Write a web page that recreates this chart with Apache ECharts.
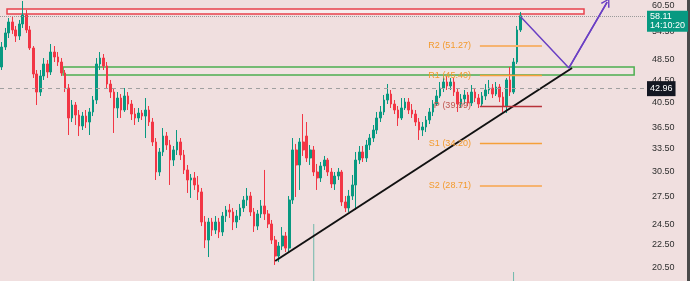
<!DOCTYPE html>
<html>
<head>
<meta charset="utf-8">
<script src="https://cdn.jsdelivr.net/npm/echarts@6/dist/echarts.min.js"></script>
<style>
html,body{margin:0;padding:0;background:#f0dfdf;}
#main{width:690px;height:281px;}
</style>
</head>
<body>
<div id="main"></div>
<script>
// candles (price units)
var opens = [46.98,51.04,54.10,56.62,54.78,53.42,56.15,58.29,54.78,50.83,45.64,42.35,45.26,47.57,46.02,49.99,48.97,47.96,45.83,43.06,
  38.03,40.13,38.50,36.79,38.34,37.40,38.99,40.97,47.57,48.76,47.18,43.78,42.35,39.64,41.31,39.31,41.66,40.30,38.66,38.03,
  38.82,38.34,39.31,37.40,34.43,30.40,33.03,35.29,34.00,31.95,33.31,34.43,32.62,30.66,29.41,29.66,28.81,27.99,24.71,22.93,
  24.71,23.90,24.71,23.71,25.33,25.97,25.76,24.71,25.33,26.19,27.07,27.52,25.76,24.30,25.55,26.41,25.55,24.51,22.93,21.46,
  22.37,23.32,22.18,27.07,33.31,31.30,34.43,35.29,32.22,33.31,30.40,29.66,31.17,31.95,30.40,28.93,29.90,30.40,26.85,26.19,
  27.52,28.81,31.95,33.03,32.22,34.00,35.00,36.18,38.03,38.99,40.97,42.00,40.30,39.31,38.03,39.64,40.63,39.31,38.66,37.40,
  36.18,36.64,37.71,38.99,40.30,41.66,43.06,44.15,43.42,44.15,42.35,40.30,41.14,41.83,40.47,42.35,41.31,40.30,41.66,42.71,
  43.06,42.00,43.24,41.48,39.97,44.52,42.35,47.96,54.78];
var closes = [51.04,54.10,56.62,54.78,53.42,56.15,58.29,54.78,50.83,45.64,42.35,45.26,47.57,46.02,49.99,48.97,47.96,45.83,43.06,38.03,
  40.13,38.50,36.79,38.34,37.40,38.99,40.97,47.57,48.76,47.18,43.78,42.35,39.64,41.31,39.31,41.66,40.30,38.66,38.03,38.82,
  38.34,39.31,37.40,34.43,30.40,33.03,35.29,34.00,31.95,33.31,34.43,32.62,30.66,29.41,29.66,28.81,27.99,24.71,22.93,24.71,
  23.90,24.71,23.71,25.33,25.97,25.76,24.71,25.33,26.19,27.07,27.52,25.76,24.30,25.55,26.41,25.55,24.51,22.93,21.46,22.37,
  23.32,22.18,27.07,33.31,31.30,34.43,33.31,32.22,33.31,30.40,29.66,31.17,31.95,30.40,28.93,29.90,30.40,26.85,26.19,27.52,
  28.81,31.95,33.03,32.22,34.00,35.00,36.18,38.03,38.99,40.97,42.00,40.30,39.31,38.03,39.64,40.63,39.31,38.66,37.40,36.18,
  36.64,37.71,38.99,40.30,41.66,43.06,44.15,43.42,44.15,42.35,40.30,41.14,41.83,40.47,42.35,41.31,40.30,41.66,42.71,43.06,
  42.00,43.24,41.48,39.97,44.52,42.35,47.96,54.78,58.11];
var lows = [46.40,50.41,52.98,53.88,52.11,52.54,55.23,54.10,50.41,44.89,40.13,41.66,44.52,44.89,45.45,47.96,47.18,45.26,42.35,35.44,
  37.40,36.94,35.29,36.18,36.48,35.44,38.34,40.30,46.40,46.40,43.06,41.31,35.74,38.03,38.03,38.99,39.31,37.71,36.94,37.40,
  37.71,35.00,36.79,33.86,29.41,29.90,32.49,33.31,28.81,31.17,32.62,31.95,30.15,27.87,27.30,28.22,27.07,24.30,22.18,21.37,
  23.32,23.51,23.12,23.32,24.71,25.13,23.90,24.10,24.92,25.76,26.41,25.33,23.71,23.90,25.13,24.92,24.10,22.56,20.68,20.93,
  22.00,21.82,21.82,26.63,27.41,28.22,32.49,31.69,31.30,29.90,28.22,29.17,30.66,29.90,28.45,28.22,29.41,26.41,25.76,25.76,
  27.07,25.97,31.43,31.69,31.69,33.31,34.43,35.59,37.40,38.50,40.30,39.64,38.66,36.79,37.71,39.31,38.66,38.03,36.79,34.72,
  35.29,35.88,37.09,38.34,39.97,41.31,42.35,42.71,42.71,41.66,38.99,39.64,40.30,39.97,39.97,40.63,39.64,39.97,40.97,42.00,
  41.31,41.66,40.63,38.99,38.82,41.66,42.00,47.57,54.32];
var highs = [52.11,55.23,57.56,57.80,55.69,57.09,61.76,59.51,55.69,51.25,46.40,46.40,48.76,48.36,51.68,51.25,49.99,48.76,46.40,43.78,
  40.97,40.63,39.31,38.99,39.31,39.64,41.66,48.76,49.99,49.58,47.96,44.52,43.06,42.35,42.00,43.06,42.35,40.97,39.64,39.64,
  39.31,41.31,39.97,38.03,35.00,33.58,36.48,35.88,34.72,33.86,36.18,35.00,33.31,31.30,30.15,30.40,29.90,28.45,25.33,25.13,
  25.13,25.33,25.13,25.76,26.41,26.63,26.19,25.97,26.63,27.52,28.45,27.99,26.19,25.97,27.07,30.66,25.97,24.92,23.32,22.74,
  24.20,23.71,27.52,35.00,34.15,35.00,38.66,37.40,34.00,33.86,31.43,31.69,32.49,32.22,30.91,30.40,30.91,30.66,27.52,28.22,
  30.03,33.03,33.86,33.86,34.72,35.59,36.94,38.99,39.97,41.83,43.78,42.71,40.97,39.97,41.31,41.31,41.31,40.30,39.31,38.03,
  37.40,38.34,39.64,40.97,42.71,44.15,45.45,45.26,44.89,44.89,43.06,42.00,42.71,42.35,43.60,43.06,42.00,42.35,43.78,44.52,
  43.78,44.15,43.78,42.35,44.89,46.98,48.76,55.69,59.02];

// only two volume spikes reach into the visible area
var volumeIdx = [89, 146];
var volumeVal = [20.3, 3.2];

var priceTicks = [60.5, 54.5, 48.5, 44.5, 40.5, 36.5, 33.5, 30.5, 27.5, 24.5, 22.5, 20.5];
var slotCount = 184;

var pivotNames = ['R2', 'R1', 'P', 'S1', 'S2'];
var pivotValues = [51.27, 45.40, 39.99, 34.20, 28.71];
var pivotFrom = 136.4, pivotTo = 154.1;

var trendLine = [[78, 21.02], [162.7, 46.79]];
var arrowPath = [[148.1, 57.80], [161.8, 46.79], [172.7, 61.50]];
var redBox = [[1.5, 59.75], [166.1, 58.53]];
var greenBox = [[17.5, 46.98], [180.4, 45.45]];

var lastPrice = 58.11, lastTime = '14:10:20';
var markPrice = 42.96;

var LN = Math.log;
var FONT = "'Liberation Sans Narrow', 'Liberation Sans', sans-serif";

function initChart() {
    var myChart = echarts.init(document.getElementById('main'));

    var cats = [];
    for (var i = 0; i < slotCount; i++) cats.push(String(i));

    var candles = [];
    for (var j = 0; j < opens.length; j++) {
        candles.push([LN(opens[j]), LN(closes[j]), LN(lows[j]), LN(highs[j])]);
    }
    var vols = [];
    for (var k = 0; k < opens.length; k++) vols.push(null);
    volumeIdx.forEach(function (ix, n) { vols[ix] = volumeVal[n]; });

    var pivotLines = pivotValues.map(function (v, n) {
        var isP = pivotNames[n] === 'P';
        var col = isP ? '#b8323a' : '#f5a03a';
        var wide = (pivotNames[n] === 'S2' || pivotNames[n] === 'R2');
        return [
            {
                coord: [pivotFrom, LN(v)],
                lineStyle: { color: wide ? '#f6b370' : col, width: wide ? 2 : 1.3, type: 'solid' },
                label: {
                    show: true, position: 'start', distance: 9,
                    formatter: pivotNames[n] + ' (' + v.toFixed(2) + ')',
                    color: isP ? '#c0574f' : '#f39a2c', fontSize: 9, fontFamily: FONT
                }
            },
            { coord: [pivotTo, LN(v)] }
        ];
    });

    var option = {
        backgroundColor: '#f0dfdf',
        animation: false,
        grid: { left: 0, right: 45, top: 0, bottom: 0 },
        xAxis: [
            { type: 'category', data: cats, show: false, boundaryGap: true },
            { type: 'value', min: -0.5, max: slotCount - 0.5, show: false }
        ],
        yAxis: [
            {
                type: 'value', position: 'right',
                min: LN(19.35), max: LN(62.02),
                axisLine: { show: false }, axisTick: { show: false }, splitLine: { show: false },
                axisLabel: {
                    customValues: priceTicks.map(LN),
                    formatter: function (v) { return Math.exp(v).toFixed(2); },
                    color: '#2e2e2e', fontSize: 9, fontFamily: FONT, margin: 7
                }
            },
            { type: 'value', min: 0, max: 100, show: false }
        ],
        series: [
            {
                type: 'bar', xAxisIndex: 0, yAxisIndex: 1, data: vols,
                barWidth: 1, itemStyle: { color: 'rgba(8,153,129,0.55)' }, silent: true
            },
            {
                type: 'candlestick', xAxisIndex: 0, yAxisIndex: 0, data: candles,
                barWidth: '62%',
                itemStyle: {
                    color: '#089981', color0: '#f23645',
                    borderColor: '#089981', borderColor0: '#f23645', borderWidth: 1
                },
                markLine: {
                    silent: true, symbol: ['none', 'none'],
                    data: [
                        {
                            yAxis: LN(lastPrice),
                            lineStyle: { color: '#9a9a9a', type: 'dotted', width: 1 },
                            label: {
                                show: true, position: 'end', distance: 2,
                                formatter: lastPrice.toFixed(2) + '\n' + lastTime,
                                backgroundColor: '#089981', color: '#ffffff',
                                fontSize: 9, lineHeight: 9, fontFamily: FONT,
                                padding: [2, 3, 1, 3], offset: [0, 5]
                            }
                        },
                        {
                            yAxis: LN(markPrice),
                            lineStyle: { color: '#a0a0a0', type: [4, 4], width: 1 },
                            label: {
                                show: true, position: 'end', distance: 2,
                                formatter: markPrice.toFixed(2),
                                backgroundColor: '#131722', color: '#ffffff',
                                fontSize: 9, fontFamily: FONT, padding: [3, 3, 3, 3]
                            }
                        }
                    ]
                }
            },
            {
                type: 'line', xAxisIndex: 1, yAxisIndex: 0,
                data: trendLine.map(function (p) { return [p[0], LN(p[1])]; }),
                symbol: 'none', lineStyle: { color: '#111111', width: 2 }, silent: true,
                markArea: {
                    silent: true,
                    data: [
                        [{ coord: [redBox[0][0], LN(redBox[0][1])], itemStyle: { color: 'rgba(255,255,255,0.45)', borderColor: '#e8424c', borderWidth: 1.5 } },
                         { coord: [redBox[1][0], LN(redBox[1][1])] }],
                        [{ coord: [greenBox[0][0], LN(greenBox[0][1])], itemStyle: { color: 'rgba(255,255,255,0.15)', borderColor: '#4caf50', borderWidth: 1.5 } },
                         { coord: [greenBox[1][0], LN(greenBox[1][1])] }]
                    ]
                },
                markLine: {
                    silent: true, symbol: ['none', 'none'],
                    data: pivotLines
                }
            },
            {
                type: 'line', xAxisIndex: 1, yAxisIndex: 0,
                data: arrowPath.map(function (p) { return [p[0], LN(p[1])]; }),
                symbol: 'none', lineStyle: { color: '#6a3fc4', width: 1.5 }, silent: true,
                markLine: {
                    silent: true,
                    symbol: ['none', 'path://M5,0 L10,10 L8.6,10.8 L5,3 L1.4,10.8 L0,10 Z'],
                    symbolSize: [10, 9],
                    lineStyle: { color: '#6a3fc4', width: 1.5, type: 'solid' },
                    label: { show: false },
                    data: [[
                        { coord: [arrowPath[1][0], LN(arrowPath[1][1])] },
                        { coord: [arrowPath[2][0], LN(arrowPath[2][1])] }
                    ]]
                }
            }
        ],
        graphic: [
            { type: 'rect', right: 0, top: 0, shape: { width: 3, height: 281 }, style: { fill: '#4a4a4a' }, silent: true }
        ]
    };

    myChart.setOption(option);
}

initChart();
</script>
</body>
</html>
